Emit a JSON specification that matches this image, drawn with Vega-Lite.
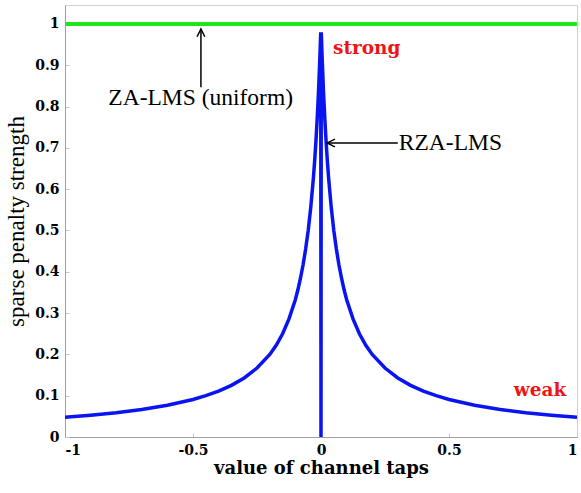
{
  "$schema": "https://vega.github.io/schema/vega-lite/v6.json",
  "width": 512,
  "height": 432,
  "autosize": {"type": "none"},
  "padding": {"left": 65, "top": 5, "right": 4, "bottom": 56},
  "background": "white",
  "config": {
    "view": {"stroke": "#d0d0d0", "strokeWidth": 1},
    "axis": {
      "grid": false,
      "domainColor": "#a0a0a0",
      "tickColor": "#c8c8c8",
      "labelFont": "DejaVu Serif",
      "labelFontWeight": "bold",
      "labelFontSize": 14,
      "labelColor": "black",
      "titleColor": "black",
      "titleFont": "DejaVu Serif"
    }
  },
  "datasets": {
    "rza": [
      {"x": -1.0, "y": 0.0476}, {"x": -0.9, "y": 0.0526}, {"x": -0.8, "y": 0.0588},
      {"x": -0.7, "y": 0.0667}, {"x": -0.6, "y": 0.0769}, {"x": -0.5, "y": 0.0909},
      {"x": -0.45, "y": 0.1}, {"x": -0.4, "y": 0.111}, {"x": -0.35, "y": 0.125},
      {"x": -0.3, "y": 0.143}, {"x": -0.25, "y": 0.167}, {"x": -0.2, "y": 0.2},
      {"x": -0.175, "y": 0.222}, {"x": -0.15, "y": 0.25}, {"x": -0.125, "y": 0.286},
      {"x": -0.1, "y": 0.333}, {"x": -0.09, "y": 0.357}, {"x": -0.08, "y": 0.385},
      {"x": -0.07, "y": 0.417}, {"x": -0.06, "y": 0.455}, {"x": -0.05, "y": 0.5},
      {"x": -0.04, "y": 0.556}, {"x": -0.03, "y": 0.625}, {"x": -0.025, "y": 0.667},
      {"x": -0.02, "y": 0.714}, {"x": -0.015, "y": 0.769}, {"x": -0.01, "y": 0.833},
      {"x": -0.005, "y": 0.909}, {"x": -0.001, "y": 0.98},
      {"x": 0.0, "y": 0.0},
      {"x": 0.001, "y": 0.98}, {"x": 0.005, "y": 0.909}, {"x": 0.01, "y": 0.833},
      {"x": 0.015, "y": 0.769}, {"x": 0.02, "y": 0.714}, {"x": 0.025, "y": 0.667},
      {"x": 0.03, "y": 0.625}, {"x": 0.04, "y": 0.556}, {"x": 0.05, "y": 0.5},
      {"x": 0.06, "y": 0.455}, {"x": 0.07, "y": 0.417}, {"x": 0.08, "y": 0.385},
      {"x": 0.09, "y": 0.357}, {"x": 0.1, "y": 0.333}, {"x": 0.125, "y": 0.286},
      {"x": 0.15, "y": 0.25}, {"x": 0.175, "y": 0.222}, {"x": 0.2, "y": 0.2},
      {"x": 0.25, "y": 0.167}, {"x": 0.3, "y": 0.143}, {"x": 0.35, "y": 0.125},
      {"x": 0.4, "y": 0.111}, {"x": 0.45, "y": 0.1}, {"x": 0.5, "y": 0.0909},
      {"x": 0.6, "y": 0.0769}, {"x": 0.7, "y": 0.0667}, {"x": 0.8, "y": 0.0588},
      {"x": 0.9, "y": 0.0526}, {"x": 1.0, "y": 0.0476}
    ],
    "za": [{"x": -1, "y": 1}, {"x": 1, "y": 1}],
    "arrows": [
      {"x": -0.469, "y": 0.847, "x2": -0.469, "y2": 0.988, "dir": "up"},
      {"x": 0.3, "y": 0.712, "x2": 0.024, "y2": 0.712, "dir": "left"}
    ],
    "labels": [
      {"x": -0.47, "y": 0.82, "text": "ZA-LMS (uniform)"},
      {"x": 0.3, "y": 0.712, "text": "RZA-LMS"}
    ],
    "notes": [
      {"x": 0.047, "y": 0.942, "text": "strong"},
      {"x": 0.958, "y": 0.114, "text": "weak"}
    ]
  },
  "layer": [
    {
      "data": {"name": "rza"},
      "mark": {"type": "line", "color": "#0a14f0", "strokeWidth": 3.5, "clip": true},
      "encoding": {
        "x": {
          "field": "x", "type": "quantitative",
          "scale": {"domain": [-1, 1], "nice": false},
          "axis": {
            "values": [-1, -0.5, 0, 0.5, 1],
            "labelExpr": "toString(datum.value)",
            "tickSize": -4, "labelPadding": 10,
            "title": "value of channel taps",
            "titleFontSize": 18, "titleFontWeight": "bold", "titlePadding": 2
          }
        },
        "y": {
          "field": "y", "type": "quantitative",
          "scale": {"domain": [0, 1.046], "nice": false},
          "axis": {
            "values": [0, 0.1, 0.2, 0.3, 0.4, 0.5, 0.6, 0.7, 0.8, 0.9, 1],
            "labelExpr": "toString(datum.value)",
            "tickSize": -4, "labelPadding": 10,
            "title": "sparse penalty strength",
            "titleFont": "Liberation Serif",
            "titleFontSize": 23, "titleFontWeight": "normal", "titlePadding": 6
          }
        }
      }
    },
    {
      "data": {"name": "za"},
      "mark": {"type": "line", "color": "#1ee61e", "strokeWidth": 4},
      "encoding": {
        "x": {"field": "x", "type": "quantitative"},
        "y": {"field": "y", "type": "quantitative"}
      }
    },
    {
      "data": {"name": "arrows"},
      "mark": {"type": "rule", "color": "black", "strokeWidth": 1.5},
      "encoding": {
        "x": {"field": "x", "type": "quantitative"},
        "y": {"field": "y", "type": "quantitative"},
        "x2": {"field": "x2"},
        "y2": {"field": "y2"}
      }
    },
    {
      "data": {"name": "arrows"},
      "transform": [{"filter": "datum.dir === 'up'"}],
      "mark": {"type": "point", "shape": "M-0.55,1.1L0,0L0.55,1.1", "filled": false, "stroke": "black", "strokeWidth": 1.5, "size": 200, "opacity": 1},
      "encoding": {
        "x": {"field": "x2", "type": "quantitative"},
        "y": {"field": "y2", "type": "quantitative"}
      }
    },
    {
      "data": {"name": "arrows"},
      "transform": [{"filter": "datum.dir === 'left'"}],
      "mark": {"type": "point", "shape": "M1.1,-0.55L0,0L1.1,0.55", "filled": false, "stroke": "black", "strokeWidth": 1.5, "size": 200, "opacity": 1},
      "encoding": {
        "x": {"field": "x2", "type": "quantitative"},
        "y": {"field": "y2", "type": "quantitative"}
      }
    },
    {
      "data": {"name": "labels"},
      "transform": [{"filter": "datum.text === 'ZA-LMS (uniform)'"}],
      "mark": {"type": "text", "font": "Liberation Serif", "fontSize": 23.5, "color": "black", "align": "center", "baseline": "middle"},
      "encoding": {
        "x": {"field": "x", "type": "quantitative"},
        "y": {"field": "y", "type": "quantitative"},
        "text": {"field": "text"}
      }
    },
    {
      "data": {"name": "labels"},
      "transform": [{"filter": "datum.text === 'RZA-LMS'"}],
      "mark": {"type": "text", "font": "Liberation Serif", "fontSize": 23.5, "color": "black", "align": "left", "baseline": "middle", "dx": 1},
      "encoding": {
        "x": {"field": "x", "type": "quantitative"},
        "y": {"field": "y", "type": "quantitative"},
        "text": {"field": "text"}
      }
    },
    {
      "data": {"name": "notes"},
      "transform": [{"filter": "datum.text === 'strong'"}],
      "mark": {"type": "text", "font": "DejaVu Serif", "fontSize": 18.5, "fontWeight": "bold", "color": "#f01414", "align": "left", "baseline": "middle"},
      "encoding": {
        "x": {"field": "x", "type": "quantitative"},
        "y": {"field": "y", "type": "quantitative"},
        "text": {"field": "text"}
      }
    },
    {
      "data": {"name": "notes"},
      "transform": [{"filter": "datum.text === 'weak'"}],
      "mark": {"type": "text", "font": "DejaVu Serif", "fontSize": 18.5, "fontWeight": "bold", "color": "#f01414", "align": "right", "baseline": "middle"},
      "encoding": {
        "x": {"field": "x", "type": "quantitative"},
        "y": {"field": "y", "type": "quantitative"},
        "text": {"field": "text"}
      }
    }
  ]
}
